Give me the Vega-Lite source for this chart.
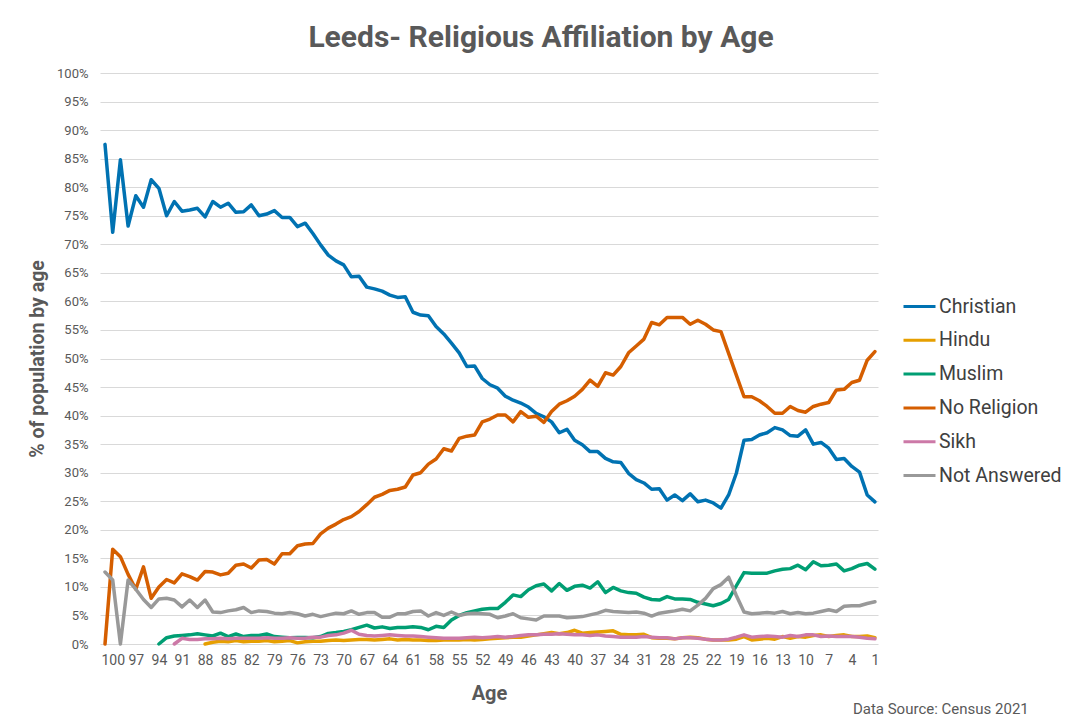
{
  "$schema": "https://vega.github.io/schema/vega-lite/v6.json",
  "width": 778,
  "height": 571,
  "autosize": {"type": "none"},
  "padding": {"left": 100, "top": 73, "right": 202, "bottom": 82},
  "background": "white",
  "config": {
    "view": {"stroke": null},
    "font": "Roboto",
    "axis": {"labelOverlap": false}
  },
  "title": {
    "text": "Leeds- Religious Affiliation by Age",
    "fontSize": 30,
    "fontWeight": "bold",
    "color": "#595959",
    "font": "Roboto",
    "anchor": "middle",
    "dx": 52,
    "offset": 14
  },
  "data": {
    "values": [
      {"age": 101, "Christian": 87.5, "Hindu": null, "Muslim": null, "No Religion": 0, "Sikh": null, "Not Answered": 12.6},
      {"age": 100, "Christian": 72.1, "Hindu": null, "Muslim": null, "No Religion": 16.6, "Sikh": null, "Not Answered": 11.2},
      {"age": 99, "Christian": 84.8, "Hindu": null, "Muslim": null, "No Religion": 15.3, "Sikh": null, "Not Answered": 0},
      {"age": 98, "Christian": 73.2, "Hindu": null, "Muslim": null, "No Religion": 12.2, "Sikh": null, "Not Answered": 11.2},
      {"age": 97, "Christian": 78.5, "Hindu": null, "Muslim": null, "No Religion": 9.6, "Sikh": null, "Not Answered": 9.6},
      {"age": 96, "Christian": 76.5, "Hindu": null, "Muslim": null, "No Religion": 13.5, "Sikh": null, "Not Answered": 7.8},
      {"age": 95, "Christian": 81.3, "Hindu": null, "Muslim": null, "No Religion": 8.0, "Sikh": null, "Not Answered": 6.4},
      {"age": 94, "Christian": 79.8, "Hindu": null, "Muslim": 0, "No Religion": 10.0, "Sikh": null, "Not Answered": 7.9},
      {"age": 93, "Christian": 75.0, "Hindu": null, "Muslim": 1.1, "No Religion": 11.3, "Sikh": null, "Not Answered": 8.0},
      {"age": 92, "Christian": 77.5, "Hindu": null, "Muslim": 1.4, "No Religion": 10.7, "Sikh": 0, "Not Answered": 7.7},
      {"age": 91, "Christian": 75.8, "Hindu": null, "Muslim": 1.5, "No Religion": 12.3, "Sikh": 1.0, "Not Answered": 6.5},
      {"age": 90, "Christian": 76.0, "Hindu": null, "Muslim": 1.6, "No Religion": 11.8, "Sikh": 0.8, "Not Answered": 7.7},
      {"age": 89, "Christian": 76.3, "Hindu": null, "Muslim": 1.8, "No Religion": 11.2, "Sikh": 0.8, "Not Answered": 6.4},
      {"age": 88, "Christian": 74.8, "Hindu": 0, "Muslim": 1.6, "No Religion": 12.7, "Sikh": 0.9, "Not Answered": 7.7},
      {"age": 87, "Christian": 77.5, "Hindu": 0.3, "Muslim": 1.4, "No Religion": 12.6, "Sikh": 0.9, "Not Answered": 5.6},
      {"age": 86, "Christian": 76.5, "Hindu": 0.5, "Muslim": 1.9, "No Religion": 12.1, "Sikh": 1.0, "Not Answered": 5.5},
      {"age": 85, "Christian": 77.2, "Hindu": 0.4, "Muslim": 1.3, "No Religion": 12.4, "Sikh": 0.9, "Not Answered": 5.8},
      {"age": 84, "Christian": 75.6, "Hindu": 0.6, "Muslim": 1.75, "No Religion": 13.8, "Sikh": 1.0, "Not Answered": 6.0},
      {"age": 83, "Christian": 75.7, "Hindu": 0.4, "Muslim": 1.3, "No Religion": 14.0, "Sikh": 1.0, "Not Answered": 6.4},
      {"age": 82, "Christian": 76.9, "Hindu": 0.5, "Muslim": 1.5, "No Religion": 13.3, "Sikh": 1.0, "Not Answered": 5.5},
      {"age": 81, "Christian": 75.0, "Hindu": 0.5, "Muslim": 1.5, "No Religion": 14.7, "Sikh": 1.0, "Not Answered": 5.8},
      {"age": 80, "Christian": 75.3, "Hindu": 0.6, "Muslim": 1.75, "No Religion": 14.8, "Sikh": 1.1, "Not Answered": 5.7},
      {"age": 79, "Christian": 75.9, "Hindu": 0.4, "Muslim": 1.3, "No Religion": 14.0, "Sikh": 1.0, "Not Answered": 5.4},
      {"age": 78, "Christian": 74.7, "Hindu": 0.5, "Muslim": 1.2, "No Religion": 15.8, "Sikh": 1.0, "Not Answered": 5.3},
      {"age": 77, "Christian": 74.7, "Hindu": 0.6, "Muslim": 1.1, "No Religion": 15.8, "Sikh": 1.1, "Not Answered": 5.5},
      {"age": 76, "Christian": 73.1, "Hindu": 0.2, "Muslim": 1.15, "No Religion": 17.2, "Sikh": 1.0, "Not Answered": 5.3},
      {"age": 75, "Christian": 73.7, "Hindu": 0.4, "Muslim": 1.15, "No Religion": 17.5, "Sikh": 1.0, "Not Answered": 4.9},
      {"age": 74, "Christian": 71.9, "Hindu": 0.5, "Muslim": 1.1, "No Religion": 17.6, "Sikh": 1.2, "Not Answered": 5.2},
      {"age": 73, "Christian": 69.9, "Hindu": 0.5, "Muslim": 1.3, "No Religion": 19.3, "Sikh": 1.2, "Not Answered": 4.8},
      {"age": 72, "Christian": 68.1, "Hindu": 0.6, "Muslim": 1.85, "No Religion": 20.3, "Sikh": 1.5, "Not Answered": 5.1},
      {"age": 71, "Christian": 67.1, "Hindu": 0.7, "Muslim": 2.0, "No Religion": 21.0, "Sikh": 1.6, "Not Answered": 5.4},
      {"age": 70, "Christian": 66.4, "Hindu": 0.6, "Muslim": 2.2, "No Religion": 21.8, "Sikh": 1.9, "Not Answered": 5.3},
      {"age": 69, "Christian": 64.3, "Hindu": 0.7, "Muslim": 2.5, "No Religion": 22.3, "Sikh": 2.4, "Not Answered": 5.8},
      {"age": 68, "Christian": 64.4, "Hindu": 0.8, "Muslim": 2.9, "No Religion": 23.2, "Sikh": 1.7, "Not Answered": 5.2},
      {"age": 67, "Christian": 62.5, "Hindu": 0.8, "Muslim": 3.3, "No Religion": 24.4, "Sikh": 1.5, "Not Answered": 5.5},
      {"age": 66, "Christian": 62.2, "Hindu": 0.7, "Muslim": 2.8, "No Religion": 25.7, "Sikh": 1.4, "Not Answered": 5.5},
      {"age": 65, "Christian": 61.8, "Hindu": 0.8, "Muslim": 3.0, "No Religion": 26.2, "Sikh": 1.5, "Not Answered": 4.7},
      {"age": 64, "Christian": 61.1, "Hindu": 0.9, "Muslim": 2.7, "No Religion": 26.9, "Sikh": 1.6, "Not Answered": 4.7},
      {"age": 63, "Christian": 60.7, "Hindu": 0.7, "Muslim": 2.9, "No Religion": 27.1, "Sikh": 1.5, "Not Answered": 5.3},
      {"age": 62, "Christian": 60.8, "Hindu": 0.8, "Muslim": 2.9, "No Religion": 27.5, "Sikh": 1.4, "Not Answered": 5.3},
      {"age": 61, "Christian": 58.1, "Hindu": 0.7, "Muslim": 3.0, "No Religion": 29.6, "Sikh": 1.4, "Not Answered": 5.7},
      {"age": 60, "Christian": 57.6, "Hindu": 0.7, "Muslim": 2.9, "No Religion": 30.0, "Sikh": 1.3, "Not Answered": 5.8},
      {"age": 59, "Christian": 57.5, "Hindu": 0.6, "Muslim": 2.5, "No Religion": 31.5, "Sikh": 1.2, "Not Answered": 4.9},
      {"age": 58, "Christian": 55.6, "Hindu": 0.6, "Muslim": 3.1, "No Religion": 32.4, "Sikh": 1.1, "Not Answered": 5.5},
      {"age": 57, "Christian": 54.3, "Hindu": 0.7, "Muslim": 2.9, "No Religion": 34.2, "Sikh": 1.0, "Not Answered": 5.0},
      {"age": 56, "Christian": 52.7, "Hindu": 0.7, "Muslim": 4.2, "No Religion": 33.8, "Sikh": 1.0, "Not Answered": 5.6},
      {"age": 55, "Christian": 51.0, "Hindu": 0.7, "Muslim": 5.0, "No Religion": 36.0, "Sikh": 1.0, "Not Answered": 5.0},
      {"age": 54, "Christian": 48.6, "Hindu": 0.8, "Muslim": 5.5, "No Religion": 36.4, "Sikh": 1.1, "Not Answered": 5.3},
      {"age": 53, "Christian": 48.7, "Hindu": 0.7, "Muslim": 5.8, "No Religion": 36.6, "Sikh": 1.2, "Not Answered": 5.4},
      {"age": 52, "Christian": 46.5, "Hindu": 0.8, "Muslim": 6.1, "No Religion": 38.9, "Sikh": 1.1, "Not Answered": 5.3},
      {"age": 51, "Christian": 45.4, "Hindu": 0.9, "Muslim": 6.2, "No Religion": 39.4, "Sikh": 1.2, "Not Answered": 5.2},
      {"age": 50, "Christian": 44.8, "Hindu": 1.0, "Muslim": 6.2, "No Religion": 40.1, "Sikh": 1.3, "Not Answered": 4.6},
      {"age": 49, "Christian": 43.4, "Hindu": 1.1, "Muslim": 7.3, "No Religion": 40.1, "Sikh": 1.2, "Not Answered": 4.9},
      {"age": 48, "Christian": 42.7, "Hindu": 1.2, "Muslim": 8.6, "No Religion": 38.9, "Sikh": 1.3, "Not Answered": 5.3},
      {"age": 47, "Christian": 42.2, "Hindu": 1.2, "Muslim": 8.3, "No Religion": 40.7, "Sikh": 1.5, "Not Answered": 4.6},
      {"age": 46, "Christian": 41.5, "Hindu": 1.4, "Muslim": 9.5, "No Religion": 39.7, "Sikh": 1.6, "Not Answered": 4.4},
      {"age": 45, "Christian": 40.4, "Hindu": 1.6, "Muslim": 10.2, "No Religion": 39.9, "Sikh": 1.6, "Not Answered": 4.2},
      {"age": 44, "Christian": 39.8, "Hindu": 1.8, "Muslim": 10.5, "No Religion": 38.8, "Sikh": 1.7, "Not Answered": 4.9},
      {"age": 43, "Christian": 38.9, "Hindu": 2.0, "Muslim": 9.3, "No Religion": 40.7, "Sikh": 1.7, "Not Answered": 4.9},
      {"age": 42, "Christian": 37.0, "Hindu": 1.8, "Muslim": 10.6, "No Religion": 42.0, "Sikh": 1.8, "Not Answered": 4.9},
      {"age": 41, "Christian": 37.6, "Hindu": 2.0, "Muslim": 9.4, "No Religion": 42.6, "Sikh": 1.7, "Not Answered": 4.6},
      {"age": 40, "Christian": 35.7, "Hindu": 2.4, "Muslim": 10.1, "No Religion": 43.4, "Sikh": 1.6, "Not Answered": 4.7},
      {"age": 39, "Christian": 34.9, "Hindu": 1.9, "Muslim": 10.3, "No Religion": 44.6, "Sikh": 1.6, "Not Answered": 4.8},
      {"age": 38, "Christian": 33.7, "Hindu": 2.0, "Muslim": 9.8, "No Religion": 46.2, "Sikh": 1.5, "Not Answered": 5.1},
      {"age": 37, "Christian": 33.7, "Hindu": 2.1, "Muslim": 10.9, "No Religion": 45.1, "Sikh": 1.6, "Not Answered": 5.4},
      {"age": 36, "Christian": 32.5, "Hindu": 2.2, "Muslim": 9.0, "No Religion": 47.5, "Sikh": 1.4, "Not Answered": 5.9},
      {"age": 35, "Christian": 31.9, "Hindu": 2.3, "Muslim": 9.9, "No Religion": 47.1, "Sikh": 1.3, "Not Answered": 5.7},
      {"age": 34, "Christian": 31.8, "Hindu": 1.7, "Muslim": 9.3, "No Religion": 48.6, "Sikh": 1.2, "Not Answered": 5.6},
      {"age": 33, "Christian": 29.9, "Hindu": 1.6, "Muslim": 9.0, "No Religion": 51.0, "Sikh": 1.2, "Not Answered": 5.5},
      {"age": 32, "Christian": 28.8, "Hindu": 1.6, "Muslim": 8.9, "No Religion": 52.2, "Sikh": 1.2, "Not Answered": 5.6},
      {"age": 31, "Christian": 28.2, "Hindu": 1.7, "Muslim": 8.2, "No Religion": 53.4, "Sikh": 1.3, "Not Answered": 5.4},
      {"age": 30, "Christian": 27.1, "Hindu": 1.1, "Muslim": 7.8, "No Religion": 56.3, "Sikh": 1.2, "Not Answered": 4.9},
      {"age": 29, "Christian": 27.2, "Hindu": 1.0, "Muslim": 7.7, "No Religion": 55.9, "Sikh": 1.1, "Not Answered": 5.4},
      {"age": 28, "Christian": 25.2, "Hindu": 1.0, "Muslim": 8.3, "No Religion": 57.2, "Sikh": 1.1, "Not Answered": 5.6},
      {"age": 27, "Christian": 26.1, "Hindu": 0.9, "Muslim": 7.9, "No Religion": 57.2, "Sikh": 0.9, "Not Answered": 5.8},
      {"age": 26, "Christian": 25.1, "Hindu": 1.1, "Muslim": 7.9, "No Religion": 57.2, "Sikh": 1.1, "Not Answered": 6.1},
      {"age": 25, "Christian": 26.3, "Hindu": 1.2, "Muslim": 7.8, "No Religion": 56.0, "Sikh": 1.1, "Not Answered": 5.8},
      {"age": 24, "Christian": 24.9, "Hindu": 1.1, "Muslim": 7.3, "No Religion": 56.7, "Sikh": 1.0, "Not Answered": 6.8},
      {"age": 23, "Christian": 25.2, "Hindu": 0.85, "Muslim": 7.0, "No Religion": 56.0, "Sikh": 0.85, "Not Answered": 8.0},
      {"age": 22, "Christian": 24.7, "Hindu": 0.7, "Muslim": 6.7, "No Religion": 55.0, "Sikh": 0.7, "Not Answered": 9.7},
      {"age": 21, "Christian": 23.8, "Hindu": 0.7, "Muslim": 7.1, "No Religion": 54.7, "Sikh": 0.7, "Not Answered": 10.4},
      {"age": 20, "Christian": 26.1, "Hindu": 0.7, "Muslim": 7.8, "No Religion": 50.9, "Sikh": 0.85, "Not Answered": 11.7},
      {"age": 19, "Christian": 29.9, "Hindu": 0.85, "Muslim": 10.2, "No Religion": 47.1, "Sikh": 1.2, "Not Answered": 8.5},
      {"age": 18, "Christian": 35.7, "Hindu": 1.3, "Muslim": 12.5, "No Religion": 43.3, "Sikh": 1.6, "Not Answered": 5.6},
      {"age": 17, "Christian": 35.8, "Hindu": 0.7, "Muslim": 12.4, "No Religion": 43.3, "Sikh": 1.2, "Not Answered": 5.3},
      {"age": 16, "Christian": 36.6, "Hindu": 0.85, "Muslim": 12.4, "No Religion": 42.6, "Sikh": 1.3, "Not Answered": 5.4},
      {"age": 15, "Christian": 37.0, "Hindu": 1.0, "Muslim": 12.4, "No Religion": 41.6, "Sikh": 1.4, "Not Answered": 5.5},
      {"age": 14, "Christian": 37.9, "Hindu": 0.85, "Muslim": 12.8, "No Religion": 40.4, "Sikh": 1.3, "Not Answered": 5.4},
      {"age": 13, "Christian": 37.5, "Hindu": 1.3, "Muslim": 13.1, "No Religion": 40.4, "Sikh": 1.2, "Not Answered": 5.7},
      {"age": 12, "Christian": 36.5, "Hindu": 1.0, "Muslim": 13.2, "No Religion": 41.6, "Sikh": 1.5, "Not Answered": 5.3},
      {"age": 11, "Christian": 36.4, "Hindu": 1.3, "Muslim": 13.8, "No Religion": 40.9, "Sikh": 1.3, "Not Answered": 5.5},
      {"age": 10, "Christian": 37.5, "Hindu": 1.2, "Muslim": 13.0, "No Religion": 40.6, "Sikh": 1.6, "Not Answered": 5.3},
      {"age": 9, "Christian": 35.0, "Hindu": 1.5, "Muslim": 14.4, "No Religion": 41.6, "Sikh": 1.6, "Not Answered": 5.4},
      {"age": 8, "Christian": 35.3, "Hindu": 1.6, "Muslim": 13.7, "No Religion": 42.0, "Sikh": 1.3, "Not Answered": 5.7},
      {"age": 7, "Christian": 34.3, "Hindu": 1.3, "Muslim": 13.8, "No Religion": 42.3, "Sikh": 1.4, "Not Answered": 6.0},
      {"age": 6, "Christian": 32.3, "Hindu": 1.5, "Muslim": 14.0, "No Religion": 44.5, "Sikh": 1.3, "Not Answered": 5.7},
      {"age": 5, "Christian": 32.5, "Hindu": 1.6, "Muslim": 12.8, "No Religion": 44.6, "Sikh": 1.3, "Not Answered": 6.6},
      {"age": 4, "Christian": 31.1, "Hindu": 1.3, "Muslim": 13.2, "No Religion": 45.8, "Sikh": 1.3, "Not Answered": 6.7},
      {"age": 3, "Christian": 30.1, "Hindu": 1.3, "Muslim": 13.8, "No Religion": 46.2, "Sikh": 1.2, "Not Answered": 6.7},
      {"age": 2, "Christian": 26.1, "Hindu": 1.4, "Muslim": 14.1, "No Religion": 49.7, "Sikh": 1.0, "Not Answered": 7.1},
      {"age": 1, "Christian": 24.9, "Hindu": 1.1, "Muslim": 13.1, "No Religion": 51.2, "Sikh": 0.9, "Not Answered": 7.4}
    ]
  },
  "layer": [
    {
      "transform": [
        {"fold": ["Christian", "Hindu", "Muslim", "No Religion", "Sikh", "Not Answered"], "as": ["religion", "pct"]}
      ],
      "mark": {"type": "line", "strokeWidth": 3.5, "strokeJoin": "round", "strokeCap": "round"},
      "encoding": {
        "x": {
          "field": "age",
          "type": "quantitative",
          "scale": {"domain": [0.6, 101.65], "reverse": true, "nice": false, "zero": false},
          "axis": {
            "title": "Age",
            "values": [1, 4, 7, 10, 13, 16, 19, 22, 25, 28, 31, 34, 37, 40, 43, 46, 49, 52, 55, 58, 61, 64, 67, 70, 73, 76, 79, 82, 85, 88, 91, 94, 97, 100],
            "tickCount": 50,
            "grid": false,
            "ticks": false,
            "domain": false,
            "labelFontSize": 14,
            "labelColor": "#595959",
            "labelPadding": 9,
            "labelFlush": false,
            "labelOverlap": false,
            "titleFontSize": 20,
            "titleFontWeight": "bold",
            "titleColor": "#595959",
            "titlePadding": 16
          }
        },
        "y": {
          "field": "pct",
          "type": "quantitative",
          "scale": {"domain": [0, 100], "nice": false},
          "axis": {
            "title": "% of population by age",
            "values": [0, 5, 10, 15, 20, 25, 30, 35, 40, 45, 50, 55, 60, 65, 70, 75, 80, 85, 90, 95, 100],
            "tickCount": 30,
            "labelExpr": "datum.value + '%'",
            "grid": true,
            "gridColor": "#d9d9d9",
            "gridWidth": 1,
            "ticks": false,
            "domain": false,
            "labelFontSize": 13,
            "labelColor": "#595959",
            "labelPadding": 12,
            "labelOverlap": false,
            "titleFontSize": 19.5,
            "titleFontWeight": "bold",
            "titleColor": "#595959",
            "titlePadding": 9
          }
        },
        "color": {
          "field": "religion",
          "type": "nominal",
          "scale": {
            "domain": ["Christian", "Hindu", "Muslim", "No Religion", "Sikh", "Not Answered"],
            "range": ["#0072B2", "#E69F00", "#009E73", "#D55E00", "#CC79A7", "#999999"]
          },
          "legend": {
            "title": null,
            "orient": "none",
            "legendX": 802,
            "legendY": 216,
            "symbolType": "stroke",
            "symbolSize": 1024,
            "symbolStrokeWidth": 3,
            "labelFontSize": 19.5,
            "labelColor": "#404040",
            "labelOffset": 2,
            "rowPadding": 6.8
          }
        }
      }
    },
    {
      "data": {"values": [{"note": "Data Source: Census 2021"}]},
      "mark": {"type": "text", "align": "left", "baseline": "middle", "dx": -22, "fontSize": 15, "color": "#595959"},
      "encoding": {
        "x": {"datum": 1, "type": "quantitative"},
        "y": {"datum": -11.4, "type": "quantitative"},
        "text": {"field": "note", "type": "nominal"}
      }
    }
  ]
}
